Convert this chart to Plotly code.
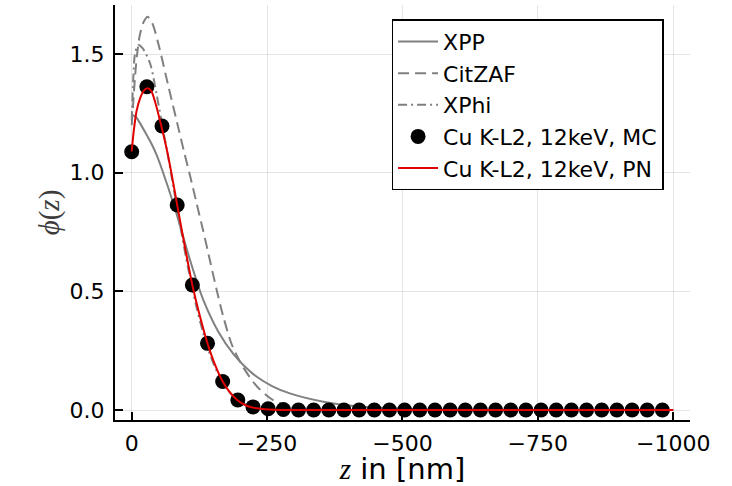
import plotly.graph_objects as go

# ---------------- data ----------------
xpp_z = [0, -8, -15, -25, -37, -46, -55, -77, -92, -108, -132, -160, -188, -206,
         -231, -260, -292, -354, -415, -480, -560, -650, -1000]
xpp_v = [1.245, 1.235, 1.21, 1.17, 1.12, 1.075, 1.02, 0.87, 0.755, 0.63, 0.465,
         0.33, 0.235, 0.19, 0.14, 0.10, 0.07, 0.035, 0.016, 0.007, 0.002, 0.0005, 0.0]

citzaf_z = [0, -3, -6, -10, -15, -22, -29.5, -38, -49, -68, -86, -97, -108, -120,
            -132, -145, -157, -169, -185, -206, -231, -261, -290, -330, -400, -1000]
citzaf_v = [1.2, 1.3, 1.40, 1.50, 1.58, 1.635, 1.657, 1.63, 1.545, 1.362, 1.19,
            1.085, 0.985, 0.87, 0.755, 0.625, 0.505, 0.395, 0.275, 0.18, 0.10,
            0.042, 0.016, 0.004, 0.0005, 0.0]

xphi_z = [0, -3, -6, -12, -20, -34, -46, -58, -65, -77, -90, -104, -118, -132,
          -146, -160, -174, -188, -202, -216, -230, -250, -280, -1000]
xphi_v = [1.22, 1.40, 1.50, 1.538, 1.525, 1.46, 1.33, 1.18, 1.096, 0.94, 0.77,
          0.60, 0.45, 0.325, 0.225, 0.15, 0.095, 0.058, 0.034, 0.019, 0.01,
          0.004, 0.001, 0.0]

mc_z = [0, -28, -56, -84, -112, -140, -168, -196, -224, -252, -280, -308,
        -336, -364, -392, -420, -448, -476, -504, -532, -560, -588, -616, -644,
        -672, -700, -728, -756, -784, -812, -840, -868, -896, -924, -952, -980]
mc_v = [1.088, 1.362, 1.197, 0.864, 0.527, 0.281, 0.120, 0.042, 0.013, 0.005,
        0.002, 0, 0, 0, 0, 0, 0, 0, 0, 0, 0, 0, 0, 0, 0, 0, 0, 0, 0, 0, 0, 0,
        0, 0, 0, 0]

pn_z = [0, -4, -9, -15, -22, -29, -36, -43, -55, -65, -72, -84, -98, -112, -126,
        -140, -154, -168, -182, -196, -210, -224, -238, -252, -280, -320, -400, -1000]
pn_v = [1.09, 1.18, 1.26, 1.31, 1.345, 1.356, 1.345, 1.30, 1.194, 1.096, 1.015,
        0.864, 0.69, 0.527, 0.395, 0.281, 0.19, 0.12, 0.072, 0.040, 0.020,
        0.010, 0.005, 0.002, 0.0005, 0.0, 0.0, 0.0]

x_ticks = [0, -250, -500, -750, -1000]
x_ticktext = ["0", "\u2212250", "\u2212500", "\u2212750", "\u22121000"]
y_ticks = [0.0, 0.5, 1.0, 1.5]
y_ticktext = ["0.0", "0.5", "1.0", "1.5"]

names = ["XPP", "CitZAF", "XPhi", "Cu K-L2, 12keV, MC", "Cu K-L2, 12keV, PN"]

# ---------------- figure ----------------
GRAY = "rgb(128,128,128)"
fig = go.Figure()
fig.add_trace(go.Scatter(x=xpp_z, y=xpp_v, mode="lines", name=names[0],
                         line=dict(color=GRAY, width=2, shape="spline", smoothing=0.8)))
fig.add_trace(go.Scatter(x=citzaf_z, y=citzaf_v, mode="lines", name=names[1],
                         line=dict(color=GRAY, width=2, dash="11px,6px",
                                   shape="spline", smoothing=0.8)))
fig.add_trace(go.Scatter(x=xphi_z, y=xphi_v, mode="lines", name=names[2],
                         line=dict(color=GRAY, width=2, dash="9px,4px,2px,4px",
                                   shape="spline", smoothing=0.8)))
fig.add_trace(go.Scatter(x=mc_z, y=mc_v, mode="markers", name=names[3],
                         marker=dict(color="black", size=15, line=dict(width=0))))
fig.add_trace(go.Scatter(x=pn_z, y=pn_v, mode="lines", name=names[4],
                         line=dict(color="rgb(225,0,0)", width=2, shape="spline",
                                   smoothing=0.8)))

axis_common = dict(
    showline=True, linecolor="black", linewidth=2,
    ticks="inside", ticklen=8, tickwidth=1.5, tickcolor="black",
    showgrid=True, gridcolor="rgba(0,0,0,0.1)", gridwidth=1,
    zeroline=False, mirror=False, automargin=False,
    tickfont=dict(family="DejaVu Sans", size=22, color="black"),
)

fig.update_layout(
    width=732, height=486,
    margin=dict(l=115, r=42, t=5, b=66),
    paper_bgcolor="white", plot_bgcolor="white",
    showlegend=True,
    legend=dict(x=0.481, y=0.9655, xanchor="left", yanchor="top",
                bgcolor="white", bordercolor="black", borderwidth=1.5,
                font=dict(family="DejaVu Sans", size=22, color="black"),
                tracegroupgap=0, itemwidth=40),
    xaxis=dict(range=[30.84, -1031], tickvals=x_ticks, ticktext=x_ticktext,
               ticklabelstandoff=3,
               title=dict(text="<span style='font-family:Liberation Serif'><i>z</i></span> in [nm]",
                          font=dict(family="DejaVu Sans", size=29, color="black"),
                          standoff=8),
               **axis_common),
    yaxis=dict(range=[-0.0421, 1.7067], tickvals=y_ticks, ticktext=y_ticktext,
               ticklabelstandoff=4,
               title=dict(text="<i>\u03d5</i>(<i>z</i>)",
                          font=dict(family="Liberation Serif", size=29, color="rgb(60,60,60)"),
                          standoff=1),
               **axis_common),
)

fig.write_html("out.html")
